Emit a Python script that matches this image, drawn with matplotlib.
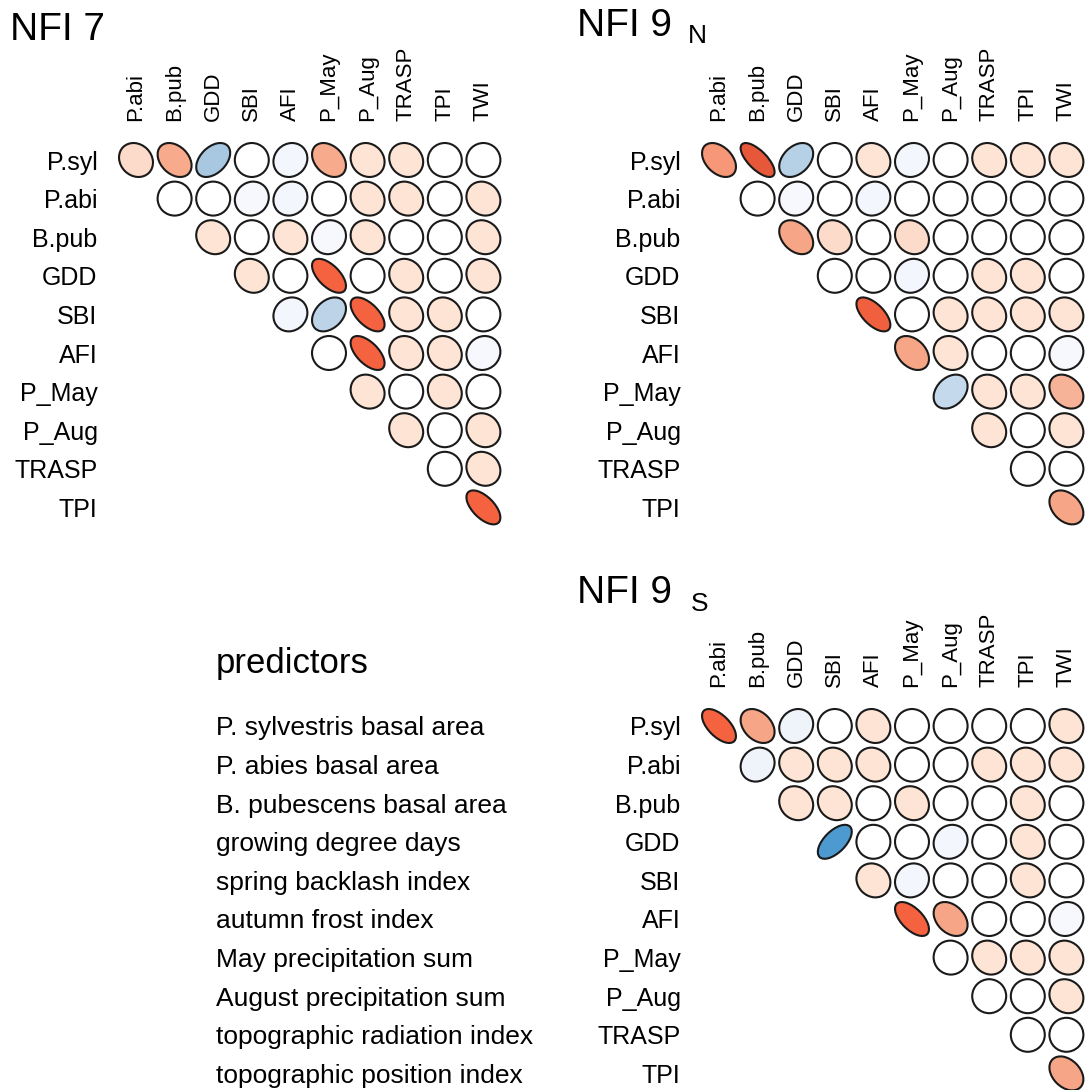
import matplotlib
matplotlib.use('Agg')
import matplotlib.pyplot as plt
import matplotlib.transforms as mtransforms
from matplotlib.patches import Ellipse
from matplotlib.colors import LinearSegmentedColormap
import numpy as np

plt.rcParams['font.family'] = ['Liberation Sans', 'DejaVu Sans']

rows = ['P.syl', 'P.abi', 'B.pub', 'GDD', 'SBI', 'AFI', 'P_May', 'P_Aug', 'TRASP', 'TPI']
cols = ['P.abi', 'B.pub', 'GDD', 'SBI', 'AFI', 'P_May', 'P_Aug', 'TRASP', 'TPI', 'TWI']

# upper triangle, row i starts at column i
nfi7 = [
    [0.15, 0.33, -0.42, 0.0, -0.1, 0.33, 0.12, 0.12, 0.0, 0.0],
    [0.0, 0.0, -0.08, -0.1, 0.0, 0.12, 0.12, 0.0, 0.12],
    [0.12, 0.0, 0.12, -0.08, 0.12, 0.0, 0.0, 0.12],
    [0.12, 0.0, 0.6, 0.0, 0.12, 0.0, 0.12],
    [-0.1, -0.35, 0.6, 0.12, 0.12, 0.0],
    [0.0, 0.6, 0.12, 0.12, -0.08],
    [0.12, 0.0, 0.12, 0.0],
    [0.12, 0.0, 0.12],
    [0.0, 0.12],
    [0.6],
]

nfi9n = [
    [0.4, 0.7, -0.38, 0.0, 0.12, -0.1, 0.0, 0.12, 0.12, 0.12],
    [0.0, -0.08, 0.0, -0.1, 0.0, 0.0, 0.0, 0.0, 0.0],
    [0.35, 0.15, 0.0, 0.15, 0.0, 0.0, 0.0, 0.0],
    [0.0, 0.0, -0.1, 0.0, 0.12, 0.12, 0.0],
    [0.62, 0.0, 0.12, 0.12, 0.12, 0.12],
    [0.35, 0.12, 0.0, 0.0, -0.08],
    [-0.32, 0.12, 0.12, 0.3],
    [0.12, 0.0, 0.12],
    [0.0, 0.0],
    [0.35],
]

nfi9s = [
    [0.6, 0.35, -0.12, 0.0, 0.12, 0.0, 0.0, 0.0, 0.0, 0.12],
    [-0.12, 0.12, 0.12, 0.12, 0.0, 0.0, 0.12, 0.12, 0.12],
    [0.12, 0.12, 0.0, 0.12, 0.0, 0.0, 0.12, 0.0],
    [-0.6, 0.0, 0.0, -0.1, 0.0, 0.12, 0.0],
    [0.12, -0.1, 0.0, 0.0, 0.12, 0.0],
    [0.6, 0.35, 0.0, 0.0, -0.08],
    [0.02, 0.12, 0.12, 0.12],
    [0.0, 0.0, 0.12],
    [0.0, 0.0],
    [0.35],
]

predictors = [
    'P. sylvestris basal area',
    'P. abies basal area',
    'B. pubescens basal area',
    'growing degree days',
    'spring backlash index',
    'autumn frost index',
    'May precipitation sum',
    'August precipitation sum',
    'topographic radiation index',
    'topographic position index',
]

anchors = [
    (-1.0, '#2166AC'), (-0.6, '#4C9AD0'), (-0.4, '#B2CDE3'), (-0.15, '#EAF0FA'),
    (-0.03, '#FFFFFF'), (0.03, '#FFFFFF'), (0.12, '#FDE4D6'), (0.35, '#F6A686'),
    (0.6, '#F4623F'), (1.0, '#C0392B'),
]
cmap = LinearSegmentedColormap.from_list('corr', [((r + 1) / 2, c) for r, c in anchors])

W, H = 1085, 1090
S = 38.6
fig = plt.figure(figsize=(W / 100, H / 100), dpi=100)


def panel(x0, y0, values):
    ax = fig.add_axes([(x0 - S / 2) / W, 1 - (y0 - S / 2 + 10 * S) / H, 10 * S / W, 10 * S / H])
    ax.set_xlim(-0.5, 9.5)
    ax.set_ylim(9.5, -0.5)
    for i, row in enumerate(values):
        for k, r in enumerate(row):
            j = i + k
            e = Ellipse((j, i), 0.88 * np.sqrt(1 + abs(r)), 0.88 * np.sqrt(1 - abs(r)),
                        angle=45 if r >= 0 else -45,
                        facecolor=cmap((r + 1) / 2), edgecolor='#1a1a1a', lw=1.5,
                        clip_on=False)
            ax.add_patch(e)
    ax.xaxis.tick_top()
    ax.set_xticks(range(10))
    ax.set_xticklabels(cols, rotation=90, fontsize=16)
    ax.set_yticks(range(10))
    ax.set_yticklabels(rows, fontsize=18)
    ax.tick_params(axis='x', length=0, pad=14.2)
    ax.tick_params(axis='y', length=0, pad=13.8)
    for sp in ax.spines.values():
        sp.set_visible(False)
    return ax


panel(136, 160, nfi7)
panel(719, 160, nfi9n)
ax_s = panel(719, 726, nfi9s)

fig.text(10 / W, 1 - 40 / H, 'NFI 7', fontsize=28, va='baseline')
fig.text(577 / W, 1 - 36 / H, 'NFI 9', fontsize=28, va='baseline')
fig.text(688 / W, 1 - 43 / H, 'N', fontsize=19, va='baseline')
fig.text(577 / W, 1 - 603 / H, 'NFI 9', fontsize=28, va='baseline')
fig.text(691 / W, 1 - 611 / H, 'S', fontsize=19, va='baseline')

fig.text(216 / W, 1 - 673 / H, 'predictors', fontsize=25, va='baseline')
tr = mtransforms.blended_transform_factory(fig.transFigure, ax_s.transData)
for i, name in enumerate(predictors):
    fig.text(216 / W, i, name, fontsize=19, va='center_baseline', transform=tr)

fig.savefig('out.png', dpi=100)
